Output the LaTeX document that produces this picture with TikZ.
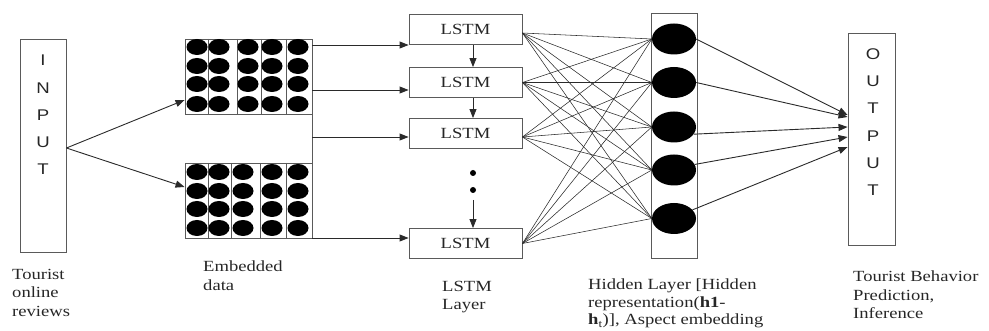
\documentclass[tikz,border=0pt]{standalone}
\usepackage{fontspec}
\setmainfont{Liberation Serif}[FakeStretch=1.2]
\newfontfamily\lettersfont{Liberation Sans}[FakeStretch=1.2]
\usetikzlibrary{arrows.meta,shapes.geometric}

\definecolor{edgegray}{HTML}{5A5A5A}
\definecolor{linegray}{HTML}{2A2A2A}
\definecolor{textgray}{HTML}{262626}

\begin{document}
\begin{tikzpicture}[x=1pt,y=-1pt,
  frame/.style={draw=edgegray,line width=0.9pt,inner sep=0pt},
  tallbox/.style={frame,minimum width=46pt,minimum height=#1},
  embbox/.style={frame,minimum width=127pt,minimum height=75pt},
  lstmbox/.style={frame,minimum width=113pt,minimum height=30pt,
    font=\fontsize{15.5}{18.5}\selectfont,text=textgray},
  neuron/.style={ellipse,fill=black,minimum width=44pt,minimum height=31pt,inner sep=0pt},
  blob/.style={ellipse,fill=black,minimum width=21pt,minimum height=16pt,inner sep=0pt},
  vdot/.style={circle,fill=black,minimum size=6pt,inner sep=0pt},
  arr/.style={draw=linegray,line width=0.9pt,-{Triangle[length=9pt,width=7pt]}},
  link/.style={draw=linegray,line width=0.55pt},
  caption/.style={anchor=north west,align=left,inner sep=0pt,text=textgray,
    font=\fontsize{15.5}{18.5}\selectfont},
  letters/.style={align=center,inner sep=0pt,text=textgray,
    font=\lettersfont\fontsize{15.5}{27.3}\selectfont},
  gridline/.style={draw=edgegray,line width=0.8pt}]

\useasboundingbox (0,0) rectangle (989,331);

% input column
\node[tallbox=213pt] (in) at (43,145.5) {};
\node[letters] (inword) at (43,115) {I\\N\\P\\U\\T};

% embedded data blocks
\node[embbox] (embA) at (248.5,76.5) {};
\node[embbox] (embB) at (248.5,200.5) {};
\foreach \x in {208,237,261,286} \draw[gridline] (\x,39) -- (\x,114);
\foreach \x in {208,231,260,286} \draw[gridline] (\x,163) -- (\x,238);
\foreach \y in {47,66,84,104}
  \foreach \x in {197,219,248,272,298}
    \node[blob] at (\x,\y) {};
\foreach \y in {172,191,209,228}
  \foreach \x in {197,219,243,272,298}
    \node[blob] at (\x,\y) {};

% input fans out to the two embedding blocks
\draw[arr] ([yshift=-2.5pt]in.east) -- ([yshift=-23.5pt]embA.west);
\draw[arr] ([yshift=-2.5pt]in.east) -- ([yshift=13.5pt]embB.west);

% LSTM chain
\node[lstmbox] (ls1) at (465.5,29.5) {LSTM};
\node[lstmbox] (ls2) at (465.5,82.5) {LSTM};
\node[lstmbox] (ls3) at (465.5,133.5) {LSTM};
\node[lstmbox] (ls4) at (465.5,243.5) {LSTM};
\node[vdot] (d1) at (473,173) {};
\node[vdot] (d2) at (473,190) {};
\coordinate (dd) at (473,200);

\draw[arr] ([xshift=7.5pt]ls1.south) -- ([xshift=7.5pt]ls2.north);
\draw[arr] ([xshift=7.5pt]ls2.south) -- ([xshift=7.5pt]ls3.north);
\draw[arr] (dd) -- ([xshift=7.5pt]ls4.north);

% trunk from the embeddings into every LSTM cell
\coordinate (k1) at (312,45);
\coordinate (k2) at (312,90);
\coordinate (k3) at (312,137);
\coordinate (k4) at (312,238);
\draw[gridline] ([yshift=-6pt]embA.north east) -- (embB.south east);
\draw[arr] (k1) -- (k1 -| ls1.west);
\draw[arr] (k2) -- (k2 -| ls2.west);
\draw[arr] (k3) -- (k3 -| ls3.west);
\draw[arr] (k4) -- (k4 -| ls4.west);

% hidden layer
\node[tallbox=245pt] (hid) at (674,135.5) {};
\node[neuron] (n1) at (674,39) {};
\node[neuron] (n2) at (674,82.5) {};
\node[neuron] (n3) at (674,127) {};
\node[neuron] (n4) at (674,170) {};
\node[neuron] (n5) at (674,218.5) {};

% dense links LSTM -> hidden units
\coordinate (s1) at ([yshift=-3.5pt]ls1.east);
\coordinate (s2) at (ls2.east);
\coordinate (s3) at ([yshift=-3.5pt]ls3.east);
\coordinate (s4) at (ls4.east);
\foreach \s in {s1,s2,s3,s4}
  \foreach \n in {n1,n2,n3,n4,n5}
    \draw[link] (\s) -- (\n.west);

% output column
\node[tallbox=212pt,minimum width=47pt] (out) at (871.5,139) {};
\node[letters] (outword) at (873,122) {O\\U\\T\\P\\U\\T};

\draw[arr] (n1.east) -- ([yshift=24pt]out.west);
\draw[arr] (n2.east) -- ([yshift=22pt]out.west);
\draw[arr] (n3.-20) -- ([yshift=12pt]out.west);
\draw[arr] (n4.15) -- ([yshift=2pt]out.west);
\draw[arr] (n5.25) -- ([yshift=-8pt]out.west);

% captions
\node[caption] (capin) at (12,269) {Tourist\\online\\reviews};
\node[caption] (capemb) at (203,261) {Embedded\\data};
\node[caption] (caplstm) at (442,281) {LSTM\\Layer};
\node[caption,font=\fontsize{15.5}{17.5}\selectfont] (caphid) at (588,279)
  {Hidden Layer [Hidden\\representation(\textbf{h1}-\\\textbf{h}\textsubscript{t})], Aspect embedding};
\node[caption] (capout) at (853,271) {Tourist Behavior\\Prediction,\\Inference};
\end{tikzpicture}
\end{document}
